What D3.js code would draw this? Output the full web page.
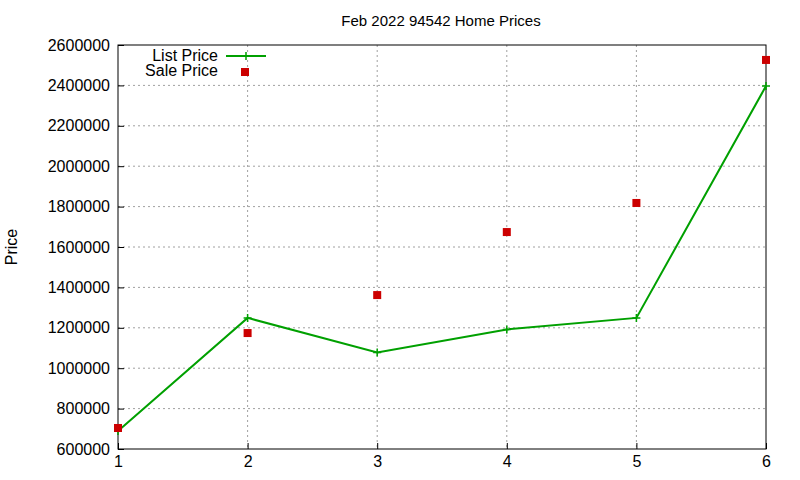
<!DOCTYPE html>
<html>
<head>
<meta charset="utf-8">
<script src="https://cdn.jsdelivr.net/npm/d3@7"></script>
<style>
body { margin: 0; background: #fff; }
text { font-family: "Liberation Sans", Arial, sans-serif; }
</style>
</head>
<body>
<script>
var categories = [1, 2, 3, 4, 5, 6];
var list_price = [689000, 1249000, 1078000, 1192000, 1249000, 2397000];
var sale_price = [704000, 1174000, 1362000, 1674000, 1818000, 2526000];
var y_ticks = [600000, 800000, 1000000, 1200000, 1400000, 1600000, 1800000, 2000000, 2200000, 2400000, 2600000];

var width = 800, height = 480;
var plot_left = 118, plot_right = 766, plot_top = 45, plot_bottom = 449;
var list_color = "#00a000";
var sale_color = "#cc0000";

var svg = d3.select("body").append("svg")
	.attr("width", width)
	.attr("height", height);

var x = d3.scaleLinear().domain([1, 6]).range([plot_left, plot_right]);
var y = d3.scaleLinear().domain([600000, 2600000]).range([plot_bottom, plot_top]);

// grid
svg.append("g").selectAll("line.gx")
	.data(categories.slice(1, -1))
	.enter().append("line")
	.attr("x1", function(d) { return x(d) }).attr("x2", function(d) { return x(d) })
	.attr("y1", plot_top).attr("y2", plot_bottom)
	.attr("stroke", "#a0a0a0").attr("stroke-dasharray", "2,3");
svg.append("g").selectAll("line.gy")
	.data(y_ticks.slice(1, -1))
	.enter().append("line")
	.attr("x1", plot_left).attr("x2", plot_right)
	.attr("y1", function(d) { return y(d) }).attr("y2", function(d) { return y(d) })
	.attr("stroke", "#a0a0a0").attr("stroke-dasharray", "2,3");

// axes
var xAxis = svg.append("g")
	.attr("transform", "translate(0," + plot_bottom + ")")
	.call(d3.axisBottom(x).tickValues(categories).tickSize(-6).tickPadding(10).tickFormat(d3.format("d")));
var yAxis = svg.append("g")
	.attr("transform", "translate(" + plot_left + ",0)")
	.call(d3.axisLeft(y).tickValues(y_ticks).tickSize(-6).tickPadding(8).tickFormat(d3.format("d")));
[xAxis, yAxis].forEach(function(a) {
	a.select(".domain").remove();
	a.selectAll("text").attr("font-size", 16).attr("fill", "#000")
		.style("font-family", "'Liberation Sans', Arial, sans-serif");
	a.selectAll("line").attr("stroke", "#000");
});
xAxis.selectAll("text").attr("dy", "0.5em");

svg.append("rect")
	.attr("x", plot_left).attr("y", plot_top)
	.attr("width", plot_right - plot_left).attr("height", plot_bottom - plot_top)
	.attr("fill", "none").attr("stroke", "#000");

// title & label
svg.append("text").attr("x", 441).attr("y", 26).attr("text-anchor", "middle")
	.attr("font-size", 15).text("Feb 2022 94542 Home Prices");
svg.append("text").attr("transform", "translate(17,247) rotate(-90)")
	.attr("text-anchor", "middle").attr("font-size", 16).text("Price");

// list price line
var line = d3.line()
	.x(function(d, i) { return x(categories[i]) })
	.y(function(d) { return y(d) });
svg.append("path").datum(list_price)
	.attr("d", line).attr("fill", "none")
	.attr("stroke", list_color).attr("stroke-width", 2);

function plus(g, cx, cy) {
	g.append("path")
		.attr("d", "M" + (cx - 4) + "," + cy + "h8M" + cx + "," + (cy - 4) + "v8")
		.attr("stroke", list_color).attr("stroke-width", 1.5);
}
list_price.forEach(function(d, i) { plus(svg, x(categories[i]), y(d)); });

svg.selectAll(".sale")
	.data(sale_price)
	.enter().append("rect")
	.attr("class", "sale")
	.attr("x", function(d, i) { return x(categories[i]) - 4 })
	.attr("y", function(d) { return y(d) - 4 })
	.attr("width", 8).attr("height", 8)
	.attr("fill", sale_color);

// legend
svg.append("text").attr("x", 218).attr("y", 61).attr("text-anchor", "end")
	.attr("font-size", 16).text("List Price");
svg.append("line").attr("x1", 226).attr("x2", 266).attr("y1", 56).attr("y2", 56)
	.attr("stroke", list_color).attr("stroke-width", 2);
plus(svg, 246, 56);
svg.append("text").attr("x", 218).attr("y", 76).attr("text-anchor", "end")
	.attr("font-size", 16).text("Sale Price");
svg.append("rect").attr("x", 241).attr("y", 68).attr("width", 8).attr("height", 8)
	.attr("fill", sale_color);
</script>
</body>
</html>
